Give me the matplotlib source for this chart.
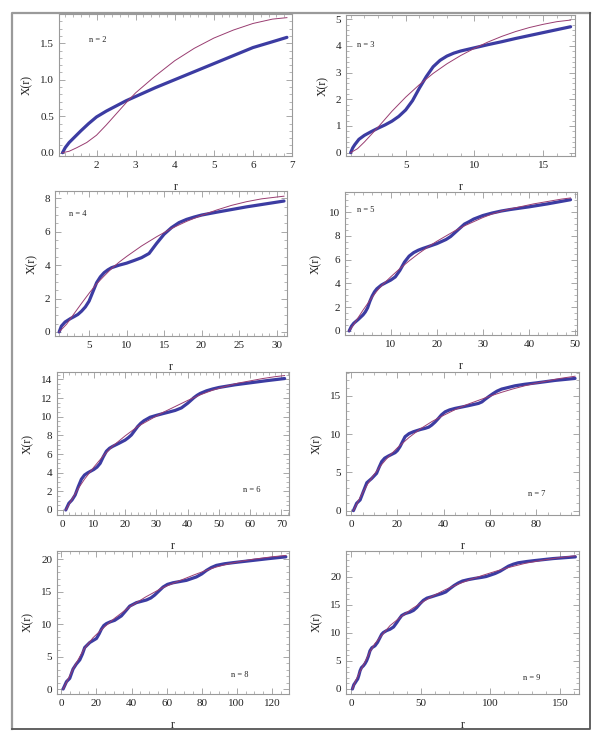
import matplotlib.pyplot as plt
from matplotlib.lines import Line2D
from matplotlib.ticker import MultipleLocator, AutoMinorLocator

plt.rcParams['font.family'] = ['Liberation Serif', 'DejaVu Serif']

# values: r and X(r), thick curve and thin curve per n
r2_thick = [1.13, 1.2, 1.3, 1.45, 1.6, 1.8, 2.0, 2.25, 2.5, 2.75, 3.0, 3.5, 4.0, 4.5, 5.0, 5.5, 6.0, 6.5, 6.87]
x2_thick = [0, 0.07, 0.14, 0.22, 0.3, 0.4, 0.49, 0.57, 0.64, 0.71, 0.77, 0.89, 1.0, 1.11, 1.22, 1.33, 1.44, 1.52, 1.58]
r2_thin = [1.13, 1.3, 1.5, 1.75, 2.0, 2.25, 2.5, 2.75, 3.0, 3.5, 4.0, 4.5, 5.0, 5.5, 6.0, 6.5, 6.87]
x2_thin = [0, 0.02, 0.07, 0.14, 0.24, 0.38, 0.53, 0.68, 0.82, 1.05, 1.26, 1.43, 1.57, 1.68, 1.77, 1.83, 1.85]

r3_thick = [1.0, 1.15, 1.3, 1.6, 2.0, 2.5, 3.0, 3.5, 4.0, 4.5, 5.0, 5.5, 6.0, 6.5, 7.0, 7.5, 8.0, 8.5, 9.0,
            10, 11, 12, 13, 14, 15, 16, 17]
x3_thick = [0, 0.18, 0.3, 0.5, 0.65, 0.79, 0.92, 1.04, 1.18, 1.36, 1.6, 1.95, 2.42, 2.85, 3.22, 3.46, 3.62, 3.73, 3.81,
            3.93, 4.05, 4.16, 4.28, 4.39, 4.5, 4.61, 4.72]
r3_thin = [1, 1.5, 2, 2.5, 3, 4, 5, 6, 7, 8, 9, 10, 11, 12, 13, 14, 15, 16, 17]
x3_thin = [0, 0.15, 0.4, 0.68, 0.96, 1.55, 2.08, 2.55, 2.97, 3.33, 3.64, 3.91, 4.15, 4.36, 4.54, 4.69, 4.81, 4.91, 4.97]

r4_thick = [1, 1.3, 1.8, 2.5, 3, 3.5, 4, 4.5, 5, 5.5, 6, 6.5, 7, 7.5, 8, 9, 10, 11, 12, 13,
            14, 15, 16, 17, 18, 19, 20, 22, 24, 26, 28, 31]
x4_thick = [0, 0.35, 0.6, 0.8, 0.92, 1.05, 1.25, 1.5, 1.85, 2.4, 2.95, 3.3, 3.55, 3.72, 3.85, 4.0, 4.12, 4.28, 4.45, 4.7,
            5.3, 5.85, 6.25, 6.55, 6.74, 6.88, 7.0, 7.17, 7.33, 7.49, 7.63, 7.84]
r4_thin = [1, 2, 3, 4, 5, 6, 7, 8, 9, 10, 12, 14, 16, 18, 20, 22, 24, 26, 28, 31]
x4_thin = [0, 0.47, 1.1, 1.72, 2.32, 2.88, 3.35, 3.8, 4.18, 4.52, 5.15, 5.7, 6.2, 6.62, 6.98, 7.3, 7.58, 7.8, 7.97, 8.13]

r5_thick = [1, 1.5, 2, 3, 4, 4.5, 5, 5.5, 6, 6.5, 7, 8, 9, 10, 11, 12, 12.5, 13, 14, 15,
            16, 17, 18, 20, 22, 23, 24, 25, 26, 27, 28, 30, 32, 34, 36, 40, 44, 49]
x5_thick = [0, 0.4, 0.65, 0.98, 1.35, 1.6, 1.95, 2.5, 2.95, 3.3, 3.55, 3.87, 4.08, 4.28, 4.55, 5.1, 5.45, 5.8, 6.3, 6.6,
            6.8, 6.95, 7.08, 7.35, 7.7, 7.95, 8.3, 8.65, 9.0, 9.2, 9.42, 9.72, 9.93, 10.1, 10.23, 10.45, 10.7, 11.05]
r5_thin = [1, 2, 3, 4, 5, 6, 7, 8, 10, 12, 14, 16, 18, 20, 22, 24, 26, 28, 30, 32, 35, 38, 41, 44, 47, 49]
x5_thin = [0, 0.55, 1.15, 1.75, 2.3, 2.85, 3.35, 3.8, 4.55, 5.25, 5.9, 6.5, 7.05, 7.55, 8.0, 8.45, 8.85, 9.2, 9.55,
           9.85, 10.2, 10.45, 10.7, 10.9, 11.1, 11.2]

r6_thick = [1, 2, 3, 4, 5, 6, 7, 8, 10, 11, 12, 13, 14, 15, 16, 18, 20, 21, 22, 23,
            24, 25, 26, 28, 30, 32, 34, 36, 38, 39, 40, 41, 42, 43, 44, 46, 48, 50, 55, 60, 65, 71]
x6_thick = [0, 0.72, 1.07, 1.6, 2.5, 3.3, 3.75, 3.98, 4.35, 4.6, 5.0, 5.7, 6.3, 6.62, 6.82, 7.15, 7.5, 7.75, 8.05, 8.5,
            8.95, 9.3, 9.57, 9.95, 10.15, 10.33, 10.5, 10.68, 10.95, 11.2, 11.45, 11.75, 12.05, 12.3, 12.5, 12.78,
            12.98, 13.14, 13.42, 13.64, 13.86, 14.1]
r6_thin = [1, 3, 5, 7, 10, 13, 16, 20, 24, 28, 32, 36, 40, 44, 48, 52, 56, 60, 64, 68, 71]
x6_thin = [0, 1.15, 2.3, 3.3, 4.6, 5.8, 6.85, 7.95, 8.95, 9.7, 10.45, 11.1, 11.75, 12.35, 12.85, 13.25, 13.6, 13.85,
           14.1, 14.3, 14.42]

r7_thick = [1, 2.4, 3.9, 5.3, 6.8, 8.9, 11, 12, 13.2, 14.5, 16.1, 19, 20, 21.1, 22.2, 23.3, 25, 26.9, 30, 31.9,
            33.5, 34.8, 36.2, 37.7, 39, 40.6, 42.5, 44.9, 50.6, 55, 56.5, 57.8, 59.5, 61.4, 63, 65, 70.8, 75, 80, 88,
            96.7]
x7_thick = [0, 0.96, 1.4, 2.5, 3.65, 4.2, 4.87, 5.6, 6.4, 6.85, 7.13, 7.57, 7.85, 8.35, 9.0, 9.65, 10.05, 10.3, 10.6,
            10.74, 10.9, 11.17, 11.55, 12.04, 12.5, 12.9, 13.15, 13.35, 13.7, 14.0, 14.2, 14.52, 14.9, 15.3, 15.6,
            15.87, 16.3, 16.5, 16.68, 17.0, 17.26]
r7_thin = [1, 3, 5, 7, 10, 13, 16, 20, 25, 30, 35, 40, 45, 50, 55, 60, 65, 70, 75, 80, 85, 90, 96.7]
x7_thin = [0, 1.2, 2.35, 3.4, 4.75, 5.95, 7.0, 8.2, 9.55, 10.7, 11.65, 12.45, 13.2, 13.85, 14.4, 14.95, 15.45, 15.9,
           16.3, 16.65, 16.95, 17.25, 17.55]

r8_thick = [1, 2.9, 4.75, 6.65, 8.5, 10.5, 12, 13.3, 16.2, 20, 21.5, 22.8, 24.2, 25.7, 28, 30.4, 34.2, 36.5, 39, 42.8,
            48.5, 51, 53.2, 55.5, 58, 60.5, 63.7, 71.3, 77, 80, 82.7, 85.5, 88.4, 93, 97.9, 109.3, 118, 128]
x8_thick = [0, 1.13, 1.64, 3.08, 3.85, 4.5, 5.4, 6.4, 7.18, 7.8, 8.5, 9.23, 9.8, 10.1, 10.38, 10.6, 11.28, 12.0, 12.8,
            13.33, 13.74, 14.05, 14.5, 15.1, 15.74, 16.15, 16.4, 16.77, 17.3, 17.75, 18.3, 18.75, 19.08, 19.33, 19.5,
            19.85, 20.12, 20.4]
r8_thin = [1, 2.5, 4, 6.5, 10, 13, 18, 23, 30, 38.5, 48, 57.5, 65, 70, 76, 82.5, 88, 95, 102, 110, 120, 128]
x8_thin = [0, 0.8, 1.6, 3.0, 4.75, 6.2, 7.9, 9.2, 10.85, 12.6, 14.2, 15.6, 16.45, 17.0, 17.65, 18.3, 18.8, 19.3,
           19.7, 20.05, 20.4, 20.62]

r9_thick = [1, 2, 2.9, 4, 4.8, 5.6, 6.5, 7.5, 8.9, 10, 11.2, 12.4, 13.6, 15, 17.2, 19, 20.8, 22, 23.2, 25.5,
            28, 30.5, 32.8, 34.6, 36.4, 39, 42.3, 44.8, 47.1, 49.5, 51.9, 54.5, 57.9, 61, 65, 68, 71, 74, 77, 80,
            84.2, 89, 93.8, 97, 100, 103.5, 107, 110, 113, 116.5, 120, 126, 132, 145, 161]
x9_thick = [0, 0.75, 1.07, 1.5, 1.78, 2.4, 3.25, 3.8, 4.14, 4.5, 5.03, 5.8, 6.8, 7.35, 7.7, 8.3, 9.17, 9.75, 10.06,
            10.4, 10.65, 11.05, 11.83, 12.5, 13.1, 13.45, 13.7, 14.0, 14.5, 15.2, 15.8, 16.2, 16.45, 16.7, 17.0, 17.3,
            17.9, 18.45, 18.9, 19.25, 19.5, 19.72, 19.9, 20.05, 20.3, 20.6, 21.0, 21.45, 21.9, 22.25, 22.5, 22.72,
            22.9, 23.25, 23.55]
r9_thin = [1, 3, 6.5, 10, 13.6, 17, 21.5, 28, 36, 44, 52, 60, 68, 77, 86, 95, 104, 113, 125, 137, 149, 161]
x9_thin = [0, 1.3, 3.1, 4.8, 6.6, 8.05, 9.4, 11.3, 12.9, 14.35, 15.6, 16.75, 17.75, 18.7, 19.55, 20.3, 21.0, 21.65,
           22.4, 22.95, 23.4, 23.75]

# panel boxes in pixels (left, right, top, bottom), axis limits, tick steps, label spot
W, H = 604, 741
panels = [
    (2, r2_thick, x2_thick, r2_thin, x2_thin, (59, 292, 14, 156), (1.04, 7.0), (-0.045, 1.9), 1, 0.5, 5, 5, (0.13, 0.80)),
    (3, r3_thick, x3_thick, r3_thin, x3_thin, (346, 575, 15, 156), (0.66, 17.32), (-0.125, 5.16), 5, 1, 5, 5, (0.05, 0.77)),
    (4, r4_thick, x4_thick, r4_thin, x4_thin, (55, 287, 191, 336), (0.45, 31.4), (-0.24, 8.44), 5, 2, 5, 4, (0.06, 0.83)),
    (5, r5_thick, x5_thick, r5_thin, x5_thin, (345, 577, 192, 335), (0.1, 50.4), (-0.34, 11.7), 10, 2, 5, 4, (0.05, 0.86)),
    (6, r6_thick, x6_thick, r6_thin, x6_thin, (57, 289, 372, 515), (-1.8, 72.4), (-0.54, 14.8), 10, 2, 5, 4, (0.80, 0.16)),
    (7, r7_thick, x7_thick, r7_thin, x7_thin, (346, 579, 372, 515), (-2.2, 98.4), (-0.57, 18.1), 20, 5, 4, 5, (0.78, 0.13)),
    (8, r8_thick, x8_thick, r8_thin, x8_thin, (57, 289, 551, 694), (-2.5, 129.8), (-0.77, 21.3), 20, 5, 4, 5, (0.75, 0.12)),
    (9, r9_thick, x9_thick, r9_thin, x9_thin, (346, 579, 551, 694), (-3.6, 163.6), (-0.9, 24.6), 50, 5, 5, 5, (0.76, 0.10)),
]

fig = plt.figure(figsize=(W / 100, H / 100), dpi=100)

# outer frame: lighter on left/top, darker on right/bottom
x0, x1, y0, y1 = 12 / W, 590 / W, 1 - 729 / H, 1 - 13 / H
fig.lines.append(Line2D([x0, x0, x1], [y0, y1, y1], transform=fig.transFigure, color='#9a9a9a', linewidth=1.6))
fig.lines.append(Line2D([x0, x1, x1], [y0, y0, y1], transform=fig.transFigure, color='#555555', linewidth=1.3))

frame_col = '#9a9a9a'
for n, rt, xt, rn, xn, box, xlim, ylim, xs, ys, xmin_div, ymin_div, lab in panels:
    l, r, t, b = box
    ax = fig.add_axes([l / W, 1 - b / H, (r - l) / W, (b - t) / H])
    ax.plot(rt, xt, color='#3c3ca2', linewidth=2.3, solid_capstyle='round')
    ax.plot(rn, xn, color='#993d71', linewidth=0.7)
    ax.set_xlim(*xlim)
    ax.set_ylim(*ylim)
    ax.xaxis.set_major_locator(MultipleLocator(xs))
    ax.yaxis.set_major_locator(MultipleLocator(ys))
    ax.xaxis.set_minor_locator(AutoMinorLocator(xmin_div))
    ax.yaxis.set_minor_locator(AutoMinorLocator(ymin_div))
    if ys == 0.5:
        ax.yaxis.set_major_formatter(plt.FormatStrFormatter('%.1f'))
    ax.tick_params(which='both', direction='in', top=True, right=True, color=frame_col,
                   labelsize=8, labelcolor='#222222')
    ax.tick_params(which='major', length=4, width=0.6, pad=3.5)
    ax.tick_params(which='minor', length=2, width=0.5)
    for s in ax.spines.values():
        s.set_color(frame_col)
        s.set_linewidth(0.8)
    ax.set_xlabel('r', fontsize=8.5, color='#222222', labelpad=8)
    ax.set_ylabel('X(r)', fontsize=8.5, color='#222222', labelpad=5)
    ax.text(lab[0], lab[1], 'n = %d' % n, transform=ax.transAxes, fontsize=6, color='#222222')

plt.savefig('out.png', dpi=100)
